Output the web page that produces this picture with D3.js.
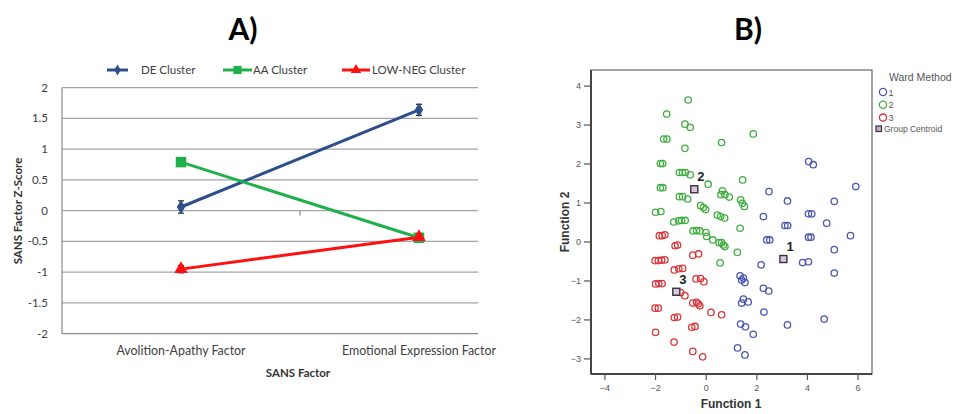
<!DOCTYPE html>
<html><head><meta charset="utf-8">
<script src="https://cdn.jsdelivr.net/npm/d3@7"></script>
<style>html,body{margin:0;padding:0;background:#fff;}svg{display:block;}</style>
</head><body>
<svg id="c" width="958" height="414"></svg>
<script>
// ---------- Panel A data ----------
const categories = ["Avolition-Apathy Factor", "Emotional Expression Factor"];
const seriesNames = ["DE Cluster", "AA Cluster", "LOW-NEG Cluster"];
const deValues = [0.06, 1.64];
const deErrors = [0.10, 0.09];
const aaValues = [0.79, -0.44];
const aaErrors = [0.04, 0.04];
const lowNegValues = [-0.95, -0.43];
const lowNegErrors = [0.06, 0.05];
const yTicksA = [2, 1.5, 1, 0.5, 0, -0.5, -1, -1.5, -2];

// ---------- Panel B data (Function 1, Function 2) ----------
const cluster1 = [[4.07,2.05],[4.25,1.97],[5.93,1.41],[2.50,1.28],[3.23,1.04],[5.08,1.03],[2.28,0.64],[4.06,0.71],[4.19,0.71],[4.78,0.47],[3.13,0.41],[3.24,0.41],[5.72,0.15],[2.41,0.04],[2.53,0.04],[4.06,0.11],[4.16,0.11],[5.08,-0.21],[2.19,-0.60],[3.83,-0.54],[4.06,-0.52],[5.08,-0.81],[1.36,-0.88],[1.49,-0.94],[1.42,-0.99],[1.55,-1.05],[2.28,-1.20],[2.49,-1.27],[1.49,-1.48],[1.42,-1.58],[1.68,-1.55],[2.30,-1.81],[4.68,-1.99],[1.38,-2.12],[1.57,-2.19],[3.23,-2.14],[1.88,-2.38],[1.26,-2.73],[1.55,-2.91]];
const cluster2 = [[-0.69,3.63],[-1.54,3.27],[-0.82,3.01],[-0.61,2.93],[-1.66,2.63],[-1.53,2.63],[-0.82,2.39],[0.63,2.54],[1.88,2.76],[-1.79,2.00],[-1.70,2.00],[-1.04,1.77],[-0.92,1.77],[-0.80,1.77],[-0.61,1.71],[0.10,1.47],[1.46,1.58],[-1.79,1.38],[-1.69,1.38],[-1.04,1.15],[-0.91,1.15],[-0.71,1.09],[0.66,1.30],[0.60,1.20],[0.76,1.20],[0.93,1.14],[1.38,1.07],[1.45,0.98],[1.53,0.90],[-0.20,0.92],[-0.09,0.87],[0.00,0.82],[-1.98,0.75],[-1.77,0.77],[0.46,0.68],[0.59,0.64],[0.75,0.60],[-1.26,0.50],[-1.07,0.53],[-0.95,0.54],[-0.81,0.54],[1.36,0.34],[-0.50,0.27],[-0.36,0.28],[-0.23,0.27],[0.01,0.23],[0.04,0.13],[0.28,0.04],[0.53,-0.03],[0.63,-0.03],[0.70,-0.09],[0.76,-0.13],[1.25,-0.28],[0.57,-0.55]];
const cluster3 = [[-1.83,0.15],[-1.72,0.15],[-1.61,0.17],[-1.21,-0.11],[-1.11,-0.09],[-0.51,-0.35],[-0.28,-0.32],[-2.00,-0.49],[-1.87,-0.49],[-1.74,-0.48],[-1.61,-0.47],[-1.24,-0.73],[-1.06,-0.70],[-0.91,-0.69],[-0.38,-0.96],[-0.20,-0.95],[-0.07,-1.03],[-1.98,-1.09],[-1.85,-1.08],[-1.72,-1.08],[-0.99,-1.31],[-0.82,-1.39],[-0.51,-1.58],[-0.36,-1.56],[-0.29,-1.60],[-0.23,-1.65],[0.21,-1.82],[0.63,-1.88],[-2.00,-1.71],[-1.87,-1.71],[-1.24,-1.95],[-1.11,-1.94],[-0.55,-2.20],[-0.42,-2.18],[-1.98,-2.33],[-1.25,-2.58],[-0.51,-2.82],[-0.12,-2.96]];
const centroids = [[3.07,-0.45],[-0.45,1.34],[-1.16,-1.29]];
const centroidLabels = ["1","2","3"];
const xTicksB = [-4,-2,0,2,4,6];
const yTicksB = [-3,-2,-1,0,1,2,3,4];
const wardLabels = ["1","2","3"];

const svg = d3.select("#c");
const fA = "Lato, 'Open Sans', sans-serif";
const fB = "'Liberation Sans', Arial, sans-serif";

// ================= Panel A =================
const xA = d3.scalePoint().domain(categories).range([62, 538]).padding(0.5);
const yA = d3.scaleLinear().domain([-2, 2]).range([333.7, 87.7]);
const gA = svg.append("g");
const plotRightA = 478;

gA.append("text").attr("x", 243).attr("y", 40).attr("text-anchor","middle")
  .style("font-family", fA).style("font-weight","bold").style("font-size","30px").text("A)");

// grid
gA.selectAll(".grid").data(yTicksA).enter().append("line")
  .attr("x1", 62).attr("x2", plotRightA)
  .attr("y1", d => yA(d)).attr("y2", d => yA(d))
  .attr("stroke", d => d === -2 ? "#8a8a8a" : "#a4a4a4").attr("stroke-width", 1.2);
// y axis line
gA.append("line").attr("x1",62).attr("x2",62).attr("y1",yA(2)).attr("y2",yA(-2))
  .attr("stroke","#8a8a8a").attr("stroke-width",1.2);
// category tick at boundary on zero line
gA.append("line").attr("x1",300).attr("x2",300).attr("y1",yA(0)).attr("y2",yA(0)+5)
  .attr("stroke","#8a8a8a").attr("stroke-width",1.2);

// y tick labels
gA.selectAll(".yl").data(yTicksA).enter().append("text")
  .attr("x", 48).attr("y", d => yA(d) + 4).attr("text-anchor","end")
  .style("font-family", fA).style("font-size","11.5px").attr("fill","#404040")
  .text(d => String(d));
// category labels
gA.selectAll(".cl").data(categories).enter().append("text")
  .attr("x", d => xA(d)).attr("y", 355).attr("text-anchor","middle")
  .style("font-family", fA).style("font-size","12.4px").attr("fill","#404040")
  .text(d => d);
// axis titles
gA.append("text").attr("x", 298).attr("y", 377).attr("text-anchor","middle")
  .style("font-family", fA).style("font-weight","bold").style("font-size","11.5px").attr("fill","#333")
  .text("SANS Factor");
gA.append("text").attr("transform","translate(22,211) rotate(-90)").attr("text-anchor","middle")
  .style("font-family", fA).style("font-weight","bold").style("font-size","11.5px").attr("fill","#333")
  .text("SANS Factor Z-Score");

const series = [
  {name: seriesNames[0], values: deValues, errors: deErrors, color: "#2c4f8c", symbol: d3.symbolDiamond, size: 60},
  {name: seriesNames[1], values: aaValues, errors: aaErrors, color: "#20b04b", symbol: d3.symbolSquare, size: 110},
  {name: seriesNames[2], values: lowNegValues, errors: lowNegErrors, color: "#ff1010", symbol: d3.symbolTriangle, size: 80}
];
const lineA = d3.line().x((d,i) => xA(categories[i])).y(d => yA(d));
series.forEach(s => {
  gA.append("path").attr("d", lineA(s.values)).attr("fill","none")
    .attr("stroke", s.color).attr("stroke-width", 3);
});
series.forEach(s => {
  s.values.forEach((v,i) => {
    const x = xA(categories[i]);
    const e = s.errors[i];
    gA.append("line").attr("x1",x).attr("x2",x).attr("y1",yA(v+e)).attr("y2",yA(v-e)).attr("stroke","#222").attr("stroke-width",1.2);
    [v+e, v-e].forEach(w => gA.append("line").attr("x1",x-3).attr("x2",x+3).attr("y1",yA(w)).attr("y2",yA(w)).attr("stroke","#222").attr("stroke-width",1.2));
    gA.append("path").attr("d", d3.symbol().type(s.symbol).size(s.size)())
      .attr("transform", `translate(${x},${yA(v)})`).attr("fill", s.color);
  });
});
// legend
const legPos = [{x1:107,x2:128,tx:141},{x1:223,x2:252,tx:253},{x1:342,x2:370,tx:372}];
series.forEach((s,i) => {
  const p = legPos[i], y = 70;
  gA.append("line").attr("x1",p.x1).attr("x2",p.x2).attr("y1",y).attr("y2",y).attr("stroke",s.color).attr("stroke-width",3);
  gA.append("path").attr("d", d3.symbol().type(s.symbol).size(s.size*0.6)())
    .attr("transform", `translate(${(p.x1+p.x2)/2},${y})`).attr("fill", s.color);
  gA.append("text").attr("x",p.tx).attr("y",y+4).style("font-family",fA).style("font-size","11.5px").attr("fill","#404040").text(s.name);
});

// ================= Panel B =================
const xB = d3.scaleLinear().domain([-4.53, 6.57]).range([591, 872]);
const yB = d3.scaleLinear().domain([-3.40, 4.40]).range([374, 70]);
const gB = svg.append("g");

gB.append("text").attr("x", 748).attr("y", 40).attr("text-anchor","middle")
  .style("font-family", fA).style("font-weight","bold").style("font-size","30px").text("B)");

// frame
gB.append("rect").attr("x",591).attr("y",70).attr("width",281).attr("height",304)
  .attr("fill","none").attr("stroke","#666").attr("stroke-width",1.2);
gB.append("line").attr("x1",591).attr("x2",872).attr("y1",374).attr("y2",374).attr("stroke","#444").attr("stroke-width",2);
gB.append("line").attr("x1",591).attr("x2",591).attr("y1",70).attr("y2",374).attr("stroke","#444").attr("stroke-width",2);

const axB = gB.append("g").attr("transform","translate(0,374)")
  .call(d3.axisBottom(xB).tickValues(xTicksB).tickSize(6).tickFormat(d3.format("d")));
const ayB = gB.append("g").attr("transform","translate(591,0)")
  .call(d3.axisLeft(yB).tickValues(yTicksB).tickSize(7).tickFormat(d3.format("d")));
[axB, ayB].forEach(a => {
  a.select(".domain").remove();
  a.selectAll("line").attr("stroke","#555").attr("stroke-width",1.2);
  a.selectAll("text").style("font-family",fB).style("font-size","9px").attr("fill","#555");
});
axB.selectAll("text").attr("dy","0.9em");

gB.append("text").attr("x", 731).attr("y", 408).attr("text-anchor","middle")
  .style("font-family", fB).style("font-weight","bold").style("font-size","12px").attr("fill","#333")
  .text("Function 1");
gB.append("text").attr("transform","translate(569,222) rotate(-90)").attr("text-anchor","middle")
  .style("font-family", fB).style("font-weight","bold").style("font-size","12px").attr("fill","#333")
  .text("Function 2");

const clusterColors = ["#4a57b0", "#3fae3f", "#d8363a"];
[cluster1, cluster2, cluster3].forEach((pts, k) => {
  gB.selectAll(".p"+k).data(pts).enter().append("circle")
    .attr("cx", d => xB(d[0])).attr("cy", d => yB(d[1])).attr("r", 3.2)
    .attr("fill","none").attr("stroke", clusterColors[k]).attr("stroke-width", 1.3);
});
centroids.forEach((c,i) => {
  gB.append("rect").attr("x", xB(c[0])-3.5).attr("y", yB(c[1])-3.5).attr("width",7).attr("height",7)
    .attr("fill","#d9c4e4").attr("stroke","#333").attr("stroke-width",1.4);
  gB.append("text").attr("x", xB(c[0])+3).attr("y", yB(c[1])-8)
    .style("font-family",fB).style("font-weight","bold").style("font-size","13px").attr("fill","#222")
    .text(centroidLabels[i]);
});

// legend B
gB.append("text").attr("x",889).attr("y",81).style("font-family",fB).style("font-size","10.5px").attr("fill","#555").text("Ward Method");
wardLabels.forEach((l,i) => {
  const y = 92 + i*12.8;
  gB.append("circle").attr("cx",883).attr("cy",y).attr("r",3.6).attr("fill","none").attr("stroke",clusterColors[i]).attr("stroke-width",1.3);
  gB.append("text").attr("x",888.5).attr("y",y+3.5).style("font-family",fB).style("font-size","9px").attr("fill","#555").text(l);
});
gB.append("rect").attr("x",876).attr("y",126).attr("width",5.5).attr("height",5.5).attr("fill","#c8a8dc").attr("stroke","#333").attr("stroke-width",1.2);
gB.append("text").attr("x",884).attr("y",132).style("font-family",fB).style("font-size","8.5px").attr("fill","#555").text("Group Centroid");
</script>
</body></html>
